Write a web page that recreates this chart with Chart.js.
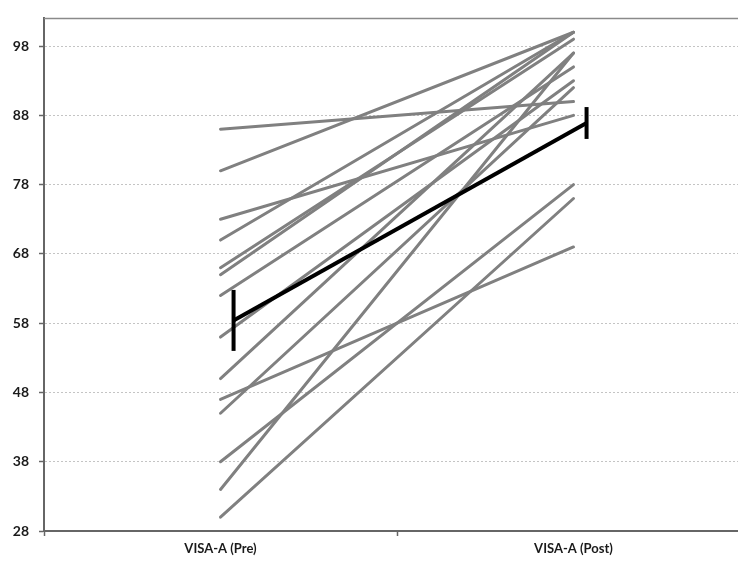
<!DOCTYPE html>
<html>
<head>
<meta charset="utf-8">
<script src="https://cdn.jsdelivr.net/npm/chart.js@4"></script>
<style>
  html, body { margin: 0; padding: 0; background: #fff; overflow: hidden; }
  #wrap { width: 738px; height: 561px; overflow: hidden; }
</style>
</head>
<body>
<div id="wrap"><canvas id="chart" width="752" height="561"></canvas></div>
<script>
const categories = ['VISA-A (Pre)', 'VISA-A (Post)'];
const preScores  = [86, 80, 73, 70, 66, 65, 62, 56, 50, 47, 45, 38, 34, 30];
const postScores = [90, 100, 88, 100, 99, 100, 95, 93, 97, 69, 92, 78, 97, 76];
const meanScores = [58.4, 86.9];
const meanErrors = [4.4, 2.3];
const yTicks = [28, 38, 48, 58, 68, 78, 88, 98];

// mean series sits a little right of the category centre, like the original
const meanShift = 0.037;

const datasets = [{
    label: 'Mean',
    xAxisID: 'xm',
    data: meanScores.map((v, i) => ({x: i, y: v})),
    borderColor: '#000',
    borderWidth: 4,
    pointRadius: 0
}];

preScores.forEach((pre, i) => {
    datasets.push({
        label: 'Subject ' + (i + 1),
        xAxisID: 'x',
        data: [pre, postScores[i]],
        borderColor: '#808080',
        borderWidth: 3,
        borderCapStyle: 'round',
        pointRadius: 0
    });
});

const errorBars = {
    id: 'errorBars',
    afterDatasetsDraw(chart) {
        const {ctx, scales: {xm, y}} = chart;
        ctx.save();
        ctx.strokeStyle = '#000';
        ctx.lineWidth = 4;
        meanScores.forEach((m, i) => {
            const px = xm.getPixelForValue(i);
            ctx.beginPath();
            ctx.moveTo(px, y.getPixelForValue(m + meanErrors[i]));
            ctx.lineTo(px, y.getPixelForValue(m - meanErrors[i]));
            ctx.stroke();
        });
        ctx.restore();
    }
};

const topBorder = {
    id: 'topBorder',
    afterDraw(chart) {
        const {ctx, chartArea} = chart;
        ctx.save();
        ctx.strokeStyle = '#8a8a8a';
        ctx.lineWidth = 1.5;
        ctx.beginPath();
        ctx.moveTo(chartArea.left, chartArea.top);
        ctx.lineTo(chartArea.right, chartArea.top);
        ctx.stroke();
        ctx.restore();
    }
};

new Chart(document.getElementById('chart'), {
    type: 'line',
    data: { labels: categories, datasets: datasets },
    plugins: [errorBars, topBorder],
    options: {
        responsive: false,
        animation: false,
        devicePixelRatio: 1,
        layout: { padding: { top: 15, right: 2, left: 0, bottom: 0 } },
        plugins: { legend: { display: false }, tooltip: { enabled: false } },
        scales: {
            x: {
                type: 'category',
                offset: true,
                grid: { offset: true, drawOnChartArea: false, tickLength: 5, tickColor: '#666', tickWidth: 1.5 },
                border: { color: '#666', width: 2 },
                ticks: { color: '#1a1a1a', padding: 5, font: { family: 'Lato', size: 13, weight: 'bold' } },
                afterFit(scale) { scale.height = 30; }
            },
            xm: {
                type: 'linear',
                display: false,
                min: -0.5 - meanShift,
                max: 1.5 - meanShift
            },
            y: {
                min: 28,
                max: 102,
                afterBuildTicks(axis) { axis.ticks = yTicks.map(v => ({value: v})); },
                grid: { color: '#c4c4c4', lineWidth: 1, tickLength: 5, tickColor: '#666', tickWidth: 1.5 },
                border: { color: '#666', width: 2, dash: [2, 2] },
                ticks: { color: '#1a1a1a', padding: 10, font: { family: 'Lato', size: 14, weight: 'bold' } },
                afterFit(scale) { scale.width = 44; }
            }
        }
    }
});
</script>
</body>
</html>
